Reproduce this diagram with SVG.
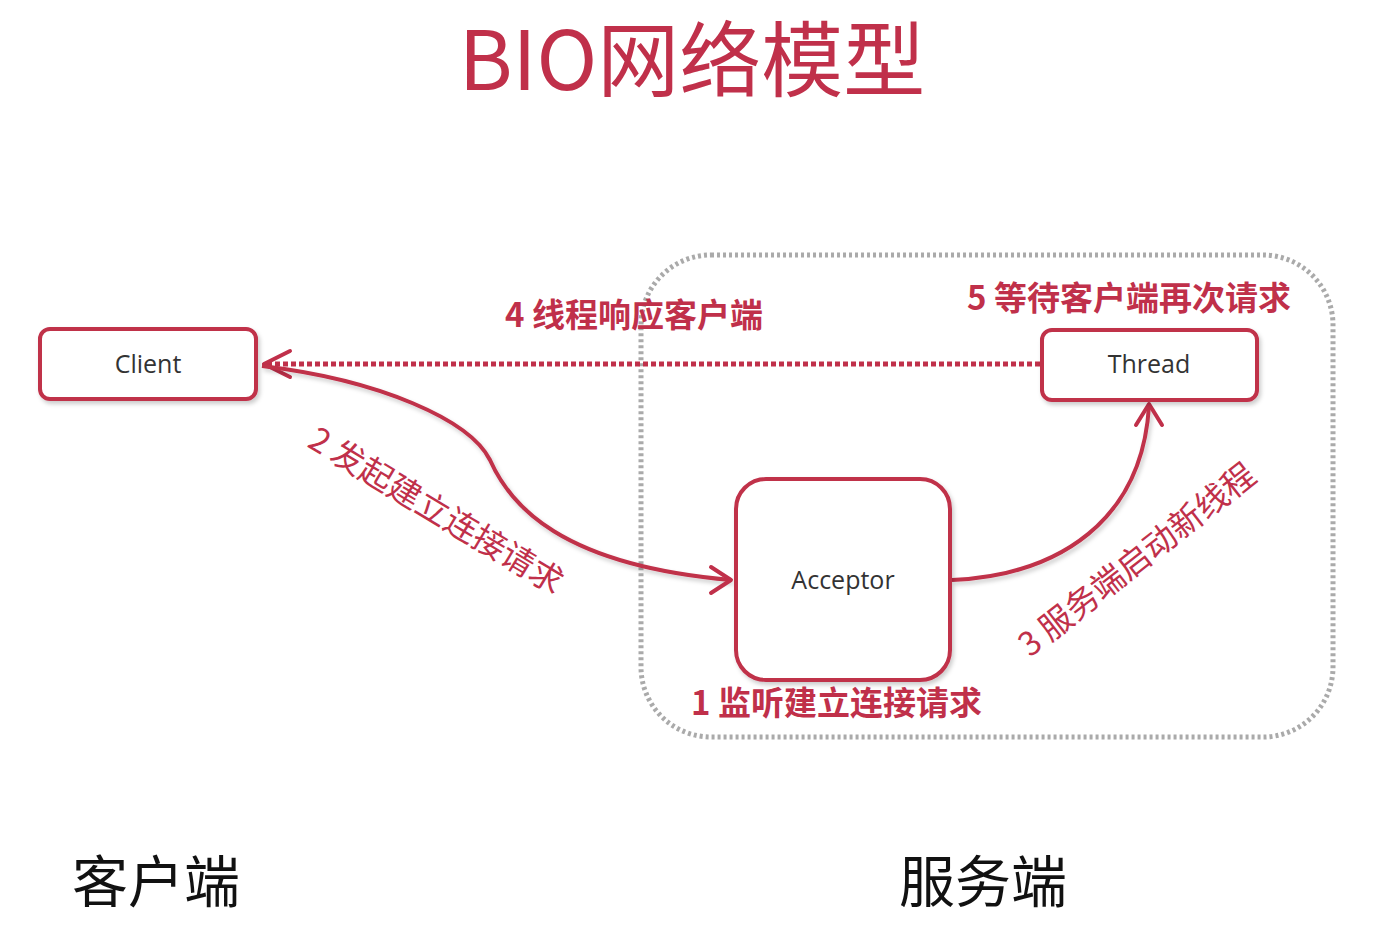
<svg xmlns="http://www.w3.org/2000/svg" width="1377" height="932" viewBox="0 0 1377 932">
<style>
.box{fill:#fff;stroke:#c0304a;stroke-width:4;filter:url(#sh)}
.nt{font-family:"Open Sans","Noto Sans",sans-serif;font-size:25px;fill:#333;text-anchor:middle;dominant-baseline:central}
.lbl{font-family:"Noto Sans CJK SC","Noto Sans",sans-serif;fill:#c0304a;font-size:33px}
.con{fill:none;stroke:#c0304a;stroke-width:4;filter:url(#sh)}
.dot{fill:none;stroke:#c0304a;stroke-width:5;stroke-dasharray:5 3}
.ah{fill:none;stroke:#c0304a;stroke-width:4;stroke-linecap:round;stroke-linejoin:round}
.big{font-family:"Noto Sans CJK SC",sans-serif;font-size:56px;fill:#111}
</style>
<defs>
<filter id="sh" filterUnits="userSpaceOnUse" x="0" y="0" width="1377" height="932">
<feDropShadow dx="2" dy="3" stdDeviation="2" flood-color="#000" flood-opacity="0.2"/>
</filter>
</defs>
<rect width="1377" height="932" fill="#fff"/>
<text x="692" y="90" text-anchor="middle" font-family="Noto Sans CJK SC,sans-serif" font-size="82" fill="#c0304a">BIO网络模型</text>

<rect id="container" x="641" y="255" width="692" height="482" rx="70" fill="none" stroke="#aaa" stroke-width="5" stroke-dasharray="3 3"/>

<g id="connectors">
<path class="dot" d="M1040,364 L266,364"/>
<path class="ah" d="M290,351 L264,364 L290,377"/>
<path class="con" d="M262,366 C380,380 470,420 490,460 C510,505 560,565 731,580"/>
<path class="ah" d="M711,567 L731,580 L711,593"/>
<path class="con" d="M952,580 C1060,575 1142,520 1149,406"/>
<path class="ah" d="M1136,425 L1149,404 L1162,425"/>
</g>

<g id="client">
<rect class="box" x="40" y="329" width="216" height="70" rx="10"/>
<text class="nt" x="148" y="363">Client</text>
</g>
<g id="thread">
<rect class="box" x="1042" y="330" width="215" height="70" rx="10"/>
<text class="nt" x="1149" y="363">Thread</text>
</g>
<g id="acceptor">
<rect class="box" x="736" y="479" width="214" height="201" rx="30"/>
<text class="nt" x="843" y="579">Acceptor</text>
</g>

<g id="labels">
<text class="lbl" x="505" y="327" font-weight="bold">4 线程响应客户端</text>
<text class="lbl" x="967" y="310" font-weight="bold">5 等待客户端再次请求</text>
<text class="lbl" x="691" y="715" font-weight="bold">1 监听建立连接请求</text>
<text class="lbl" transform="translate(306,446) rotate(31)">2 发起建立连接请求</text>
<text class="lbl" transform="translate(1030,658) rotate(-38)">3 服务端启动新线程</text>
</g>

<text class="big" x="72" y="902">客户端</text>
<text class="big" x="899" y="902">服务端</text>
</svg>
